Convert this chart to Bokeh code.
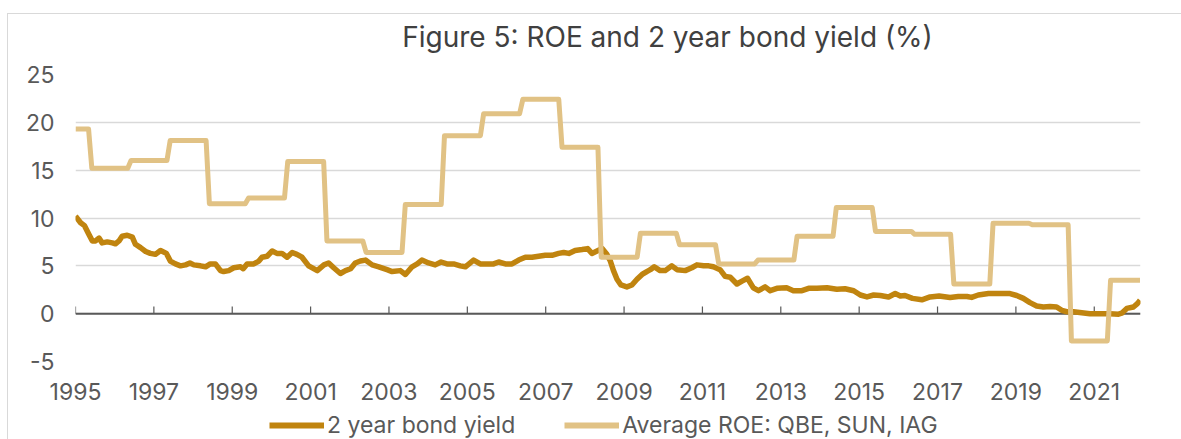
from bokeh.plotting import figure
from bokeh.layouts import column
from bokeh.models import (FixedTicker, Span, Legend, LegendItem, Range1d, Label)
from bokeh.embed import file_html
from bokeh.resources import INLINE

# ---------------- data ----------------
title_text = "Figure 5: ROE and 2 year bond yield (%)"
series_names = ["2 year bond yield", "Average ROE: QBE, SUN, IAG"]
x_tick_years = [1995, 1997, 1999, 2001, 2003, 2005, 2007, 2009, 2011, 2013, 2015, 2017, 2019, 2021]
y_ticks = [-5, 0, 5, 10, 15, 20, 25]

# 2 year bond yield (decimal year, %)
bond_dates = [
    1995.00, 1995.13, 1995.23, 1995.34, 1995.43, 1995.51, 1995.60, 1995.68, 1995.81, 1995.94,
    1996.02, 1996.11, 1996.19, 1996.32, 1996.45, 1996.53, 1996.66, 1996.79, 1996.91,
    1997.04, 1997.17, 1997.32, 1997.42, 1997.55, 1997.68, 1997.81, 1997.92,
    1998.02, 1998.19, 1998.32, 1998.44, 1998.57, 1998.70, 1998.78, 1998.91,
    1999.04, 1999.21, 1999.28, 1999.38, 1999.55, 1999.68, 1999.76, 1999.89,
    2000.02, 2000.14, 2000.27, 2000.40, 2000.53, 2000.65, 2000.78, 2000.95,
    2001.17, 2001.34, 2001.46, 2001.59, 2001.76, 2001.89,
    2002.02, 2002.14, 2002.27, 2002.40, 2002.57, 2002.74, 2002.95,
    2003.08, 2003.29, 2003.42, 2003.59, 2003.72, 2003.84,
    2004.01, 2004.18, 2004.33, 2004.48, 2004.65, 2004.82, 2004.95,
    2005.16, 2005.33, 2005.50, 2005.67, 2005.80, 2005.97,
    2006.14, 2006.31, 2006.48, 2006.65, 2006.82, 2006.99,
    2007.16, 2007.33, 2007.46, 2007.59, 2007.75, 2007.93,
    2008.07, 2008.18, 2008.31, 2008.44, 2008.56, 2008.65, 2008.73, 2008.82, 2008.92,
    2009.07, 2009.20, 2009.33, 2009.46, 2009.58, 2009.67, 2009.77, 2009.92,
    2010.05, 2010.22, 2010.35, 2010.56, 2010.73, 2010.86,
    2011.03, 2011.16, 2011.28, 2011.45, 2011.58, 2011.71, 2011.88,
    2012.01, 2012.15, 2012.30, 2012.43, 2012.60, 2012.73, 2012.90,
    2013.15, 2013.32, 2013.54, 2013.71, 2013.92,
    2014.18, 2014.43, 2014.64, 2014.86,
    2015.03, 2015.20, 2015.37, 2015.54, 2015.75, 2015.92,
    2016.05, 2016.17, 2016.36, 2016.60, 2016.81,
    2017.04, 2017.32, 2017.53, 2017.75, 2017.87,
    2018.04, 2018.30, 2018.60, 2018.85,
    2019.02, 2019.19, 2019.36, 2019.53, 2019.70, 2019.87,
    2020.04, 2020.17, 2020.30, 2020.47, 2020.68, 2020.89,
    2021.15, 2021.40, 2021.62, 2021.70, 2021.83,
    2022.00, 2022.10, 2022.17,
]
bond_yield = [
    10.2, 9.5, 9.2, 8.3, 7.6, 7.6, 7.9, 7.4, 7.5, 7.4,
    7.3, 7.6, 8.1, 8.2, 8.0, 7.25, 6.9, 6.5, 6.3,
    6.2, 6.6, 6.3, 5.5, 5.2, 5.0, 5.1, 5.3,
    5.1, 5.0, 4.9, 5.2, 5.2, 4.5, 4.4, 4.5,
    4.8, 4.9, 4.7, 5.2, 5.2, 5.5, 5.9, 6.0,
    6.55, 6.3, 6.3, 5.9, 6.4, 6.2, 5.9, 5.0,
    4.5, 5.1, 5.3, 4.8, 4.2, 4.5,
    4.7, 5.3, 5.5, 5.6, 5.1, 4.9, 4.6,
    4.4, 4.5, 4.1, 4.9, 5.2, 5.6,
    5.3, 5.1, 5.4, 5.2, 5.2, 5.0, 4.9,
    5.6, 5.2, 5.2, 5.2, 5.4, 5.2,
    5.2, 5.6, 5.9, 5.9, 6.0, 6.1,
    6.1, 6.3, 6.4, 6.3, 6.6, 6.7,
    6.8, 6.3, 6.55, 6.8, 6.2, 5.5, 4.5, 3.6, 3.0,
    2.8, 3.0, 3.6, 4.1, 4.4, 4.6, 4.9, 4.5,
    4.5, 5.0, 4.6, 4.5, 4.8, 5.1,
    5.0, 5.0, 4.9, 4.6, 3.9, 3.8, 3.1,
    3.4, 3.7, 2.7, 2.4, 2.8, 2.4, 2.65,
    2.7, 2.4, 2.4, 2.65, 2.65,
    2.7, 2.55, 2.6, 2.4,
    1.95, 1.75, 1.95, 1.9, 1.75, 2.1,
    1.85, 1.9, 1.6, 1.45, 1.75,
    1.85, 1.7, 1.8, 1.8, 1.7,
    1.95, 2.1, 2.1, 2.1,
    1.9, 1.6, 1.15, 0.8, 0.7, 0.75,
    0.7, 0.35, 0.2, 0.2, 0.1, 0.0,
    0.0, 0.0, -0.05, 0.05, 0.55,
    0.7, 1.05, 1.4,
]

# Average ROE: yearly value, each one starting in June of the given year
roe_period_start_year = [1994, 1995, 1996, 1997, 1998, 1999, 2000, 2001, 2002, 2003, 2004,
                         2005, 2006, 2007, 2008, 2009, 2010, 2011, 2012, 2013, 2014, 2015,
                         2016, 2017, 2018, 2019, 2020, 2021]
roe_values = [19.3, 15.2, 16.0, 18.1, 11.5, 12.1, 15.9, 7.6, 6.4, 11.4, 18.6,
              20.9, 22.4, 17.4, 5.9, 8.4, 7.2, 5.2, 5.6, 8.1, 11.1, 8.6,
              8.3, 3.1, 9.45, 9.3, -2.85, 3.5]
first_month = (1995, 1)
last_month = (2022, 3)
roe_change_month = 6  # June

# monthly expansion of the yearly ROE values
roe_x, roe_y = [], []
yy, mm = first_month
while (yy, mm) <= last_month:
    fy = yy if mm >= roe_change_month else yy - 1
    idx = roe_period_start_year.index(fy)
    roe_x.append(yy + (mm - 1) / 12)
    roe_y.append(roe_values[idx])
    mm += 1
    if mm > 12:
        mm = 1
        yy += 1

# ---------------- styling ----------------
FONT = "Inter"
BOND_COLOR = "#C0840F"
ROE_COLOR = "#E1C285"
TEXT_COLOR = "#595959"
GRID_COLOR = "#D9D9D9"
W = 1173


def strip(height):
    f = figure(width=W, height=height, output_backend="svg", toolbar_location=None,
               x_axis_type=None, y_axis_type=None,
               x_range=Range1d(0, 1), y_range=Range1d(0, 1),
               min_border_left=0, min_border_right=0, min_border_top=0, min_border_bottom=0)
    f.grid.visible = False
    f.outline_line_color = None
    f.background_fill_color = "white"
    f.border_fill_color = "white"
    return f


# title strip
tfig = strip(43)
tfig.add_layout(Label(x=592, y=21, x_units="screen", y_units="screen", text=title_text,
                      text_align="center", text_baseline="alphabetic",
                      text_font=FONT, text_font_size="28px", text_color="#404040"))

# main chart
p = figure(width=W, height=354, output_backend="svg", toolbar_location=None,
           x_range=Range1d(1995.0, 2022.18), y_range=Range1d(-5, 25),
           min_border_left=67, min_border_right=41, min_border_top=17, min_border_bottom=50)
p.outline_line_color = None
p.background_fill_color = "white"
p.border_fill_color = "white"

xa = p.xaxis[0]
xa.ticker = FixedTicker(ticks=x_tick_years)
xa.axis_line_color = None
xa.major_tick_line_color = None
xa.minor_tick_line_color = None
xa.major_label_text_font = FONT
xa.major_label_text_font_size = "23px"
xa.major_label_text_color = TEXT_COLOR
xa.major_label_standoff = 15

ya = p.yaxis[0]
ya.ticker = FixedTicker(ticks=y_ticks)
ya.axis_line_color = None
ya.major_tick_line_color = None
ya.minor_tick_line_color = None
ya.major_label_text_font = FONT
ya.major_label_text_font_size = "23px"
ya.major_label_text_color = TEXT_COLOR
ya.major_label_standoff = 15
ya.major_label_overrides = {-5: "-5"}

p.xgrid.grid_line_color = None
p.ygrid.grid_line_color = GRID_COLOR
p.ygrid.grid_line_width = 1.5

# zero axis line with upward tick marks
zero = Span(location=0, dimension="width", line_color=TEXT_COLOR, line_width=2, level="underlay")
p.add_layout(zero)
p.segment(x0=x_tick_years, y0=[0] * len(x_tick_years), x1=x_tick_years,
          y1=[0.75] * len(x_tick_years), line_color=TEXT_COLOR, line_width=1.2)

# series (ROE drawn on top, as in the source)
r_bond = p.line(bond_dates, bond_yield, line_color=BOND_COLOR, line_width=5.5, line_join="round")
r_roe = p.line(roe_x, roe_y, line_color=ROE_COLOR, line_width=5, line_join="round")

# legend strip underneath the chart (same series, out of view, only for the legend keys)
leg = strip(28)
lb = leg.line(bond_dates, bond_yield, line_color=BOND_COLOR, line_width=6)
lr = leg.line(roe_x, roe_y, line_color=ROE_COLOR, line_width=6)
legend = Legend(items=[LegendItem(label=series_names[0], renderers=[lb]),
                       LegendItem(label=series_names[1], renderers=[lr])],
                location=(194, 0), orientation="horizontal",
                padding=0, margin=0, spacing=49,
                glyph_width=55, glyph_height=28, label_height=28, label_standoff=3,
                label_text_font=FONT, label_text_font_size="23px", label_text_color=TEXT_COLOR,
                border_line_color=None, background_fill_alpha=0)
leg.add_layout(legend)

layout = column(tfig, p, leg, spacing=0)
layout.styles = {"margin-left": "7px", "margin-top": "13px",
                 "border-left": "1px solid #D9D9D9", "border-top": "1px solid #D9D9D9"}

open("out.html", "w").write(file_html(layout, INLINE))
